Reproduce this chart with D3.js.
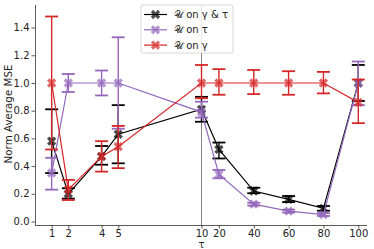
<!DOCTYPE html>
<html><head><meta charset="utf-8">
<script src="https://cdn.jsdelivr.net/npm/d3@7"></script>
<style>body{margin:0;background:#fff}svg{display:block}text{font-family:"DejaVu Sans",sans-serif}</style>
</head><body><svg id="c" width="374" height="249"></svg>
<script>
const xVals = [1, 2, 4, 5, 10, 20, 40, 60, 80, 100];
const tickVals = [1, 2, 4, 5, 10, 20, 40, 60, 80, 100];
const yTicks = [0.0, 0.2, 0.4, 0.6, 0.8, 1.0, 1.2, 1.4];
const seriesNames = ["\u{1D4B0} on \u03B3 & \u03C4", "\u{1D4B0} on \u03C4", "\u{1D4B0} on \u03B3"];
const seriesColors = ["#000000", "#9467bd", "#d62728"];
const bothMean = [0.58, 0.20, 0.47, 0.63, 0.81, 0.52, 0.22, 0.16, 0.095, 1.0];
const bothLo   = [0.35, 0.165, 0.41, 0.42, 0.72, 0.455, 0.204, 0.14, 0.078, 0.87];
const bothHi   = [0.81, 0.24, 0.545, 0.84, 0.90, 0.57, 0.244, 0.184, 0.112, 1.13];
const tauMean  = [0.35, 1.0, 1.0, 1.0, 0.79, 0.34, 0.125, 0.075, 0.05, 1.0];
const tauLo    = [0.23, 0.935, 0.91, 0.67, 0.75, 0.312, 0.115, 0.065, 0.04, 0.84];
const tauHi    = [0.46, 1.065, 1.09, 1.33, 0.865, 0.372, 0.135, 0.085, 0.06, 1.155];
const gamMean  = [1.0, 0.23, 0.47, 0.54, 1.0, 1.0, 1.0, 1.0, 1.0, 0.86];
const gamLo    = [0.52, 0.155, 0.36, 0.385, 0.89, 0.915, 0.92, 0.915, 0.925, 0.71];
const gamHi    = [1.48, 0.30, 0.58, 0.69, 1.13, 1.10, 1.094, 1.085, 1.08, 1.025];

const series = [
  {name: seriesNames[0], color: seriesColors[0], mean: bothMean, lo: bothLo, hi: bothHi},
  {name: seriesNames[1], color: seriesColors[1], mean: tauMean, lo: tauLo, hi: tauHi},
  {name: seriesNames[2], color: seriesColors[2], mean: gamMean, lo: gamLo, hi: gamHi}
];

const svg = d3.select("#c");
const mL = 35, mR = 367, mT = 5, mB = 225;
const x = d3.scaleLinear().domain([0, 10, 105]).range([mL, 201.5, mR]);
const y = d3.scaleLinear().domain([-0.0253, 1.563]).range([mB, mT]);

// axes
const xAxis = d3.axisBottom(x).tickValues(tickVals).tickSize(3.5).tickPadding(1.5).tickFormat(d3.format("d"));
const gx = svg.append("g").attr("transform", `translate(0,${mB})`).call(xAxis);
const yAxis = d3.axisLeft(y).tickValues(yTicks).tickSize(3.5).tickPadding(2).tickFormat(d3.format(".1f"));
const gy = svg.append("g").attr("transform", `translate(${mL},0)`).call(yAxis);
[gx, gy].forEach(g => {
  g.select(".domain").attr("stroke", "#333").attr("stroke-width", 0.8);
  g.selectAll(".tick line").attr("stroke", "#333").attr("stroke-width", 0.8);
  g.selectAll(".tick text").attr("font-size", 10).attr("fill", "#222").style("font-family", "DejaVu Sans");
});
gx.select(".domain").attr("d", `M${mL},0.5H${mR}`);
gy.select(".domain").attr("d", `M0.5,${mB}V${mT}`);

svg.append("text").attr("x", 201.5).attr("y", 247.5).attr("text-anchor", "middle")
  .attr("font-size", 10).attr("fill", "#222").text("\u03C4");
svg.append("text").attr("transform", `translate(11.5,${(mT+mB)/2 - 1}) rotate(-90)`)
  .attr("text-anchor", "middle").attr("font-size", 10.3).attr("fill", "#222").text("Norm Average MSE");

// vertical divider at 10
svg.append("line").attr("x1", x(10)).attr("x2", x(10)).attr("y1", mT).attr("y2", mB)
  .attr("stroke", "#777").attr("stroke-width", 0.9);

const markerPath = d3.symbol().type(d3.symbolCross).size(54)();
const line = d3.line().x(d => x(d[0])).y(d => y(d[1]));

series.forEach(s => {
  const g = svg.append("g");
  const pts = xVals.map((xv, i) => [xv, s.mean[i], s.lo[i], s.hi[i]]);
  g.append("path").attr("d", line(pts)).attr("fill", "none").attr("stroke", s.color).attr("stroke-width", 1.2);
  pts.forEach(p => {
    const cx = x(p[0]);
    g.append("line").attr("x1", cx).attr("x2", cx).attr("y1", y(p[2])).attr("y2", y(p[3]))
      .attr("stroke", s.color).attr("stroke-width", 1.4);
    [p[2], p[3]].forEach(v => {
      g.append("line").attr("x1", cx - 6.5).attr("x2", cx + 6.5).attr("y1", y(v)).attr("y2", y(v))
        .attr("stroke", s.color).attr("stroke-width", 1.8);
    });
    g.append("path").attr("d", markerPath).attr("transform", `translate(${cx},${y(p[1])}) rotate(45)`)
      .attr("fill", s.color).attr("fill-opacity", 0.7);
  });
});

// legend
const lg = svg.append("g");
lg.append("rect").attr("x", 141).attr("y", 5).attr("width", 92).attr("height", 48).attr("rx", 2)
  .attr("fill", "#fff").attr("fill-opacity", 0.8).attr("stroke", "#ccc").attr("stroke-width", 0.8);
series.forEach((s, i) => {
  const ly = 14.5 + i * 15.3;
  lg.append("line").attr("x1", 144).attr("x2", 167).attr("y1", ly).attr("y2", ly)
    .attr("stroke", s.color).attr("stroke-width", 1.2);
  lg.append("path").attr("d", markerPath).attr("transform", `translate(155.5,${ly}) rotate(45)`)
    .attr("fill", s.color).attr("fill-opacity", 0.7);
  lg.append("text").attr("x", 174).attr("y", ly + 3.5).attr("font-size", 10).attr("fill", "#222").text(s.name);
});
</script></body></html>
